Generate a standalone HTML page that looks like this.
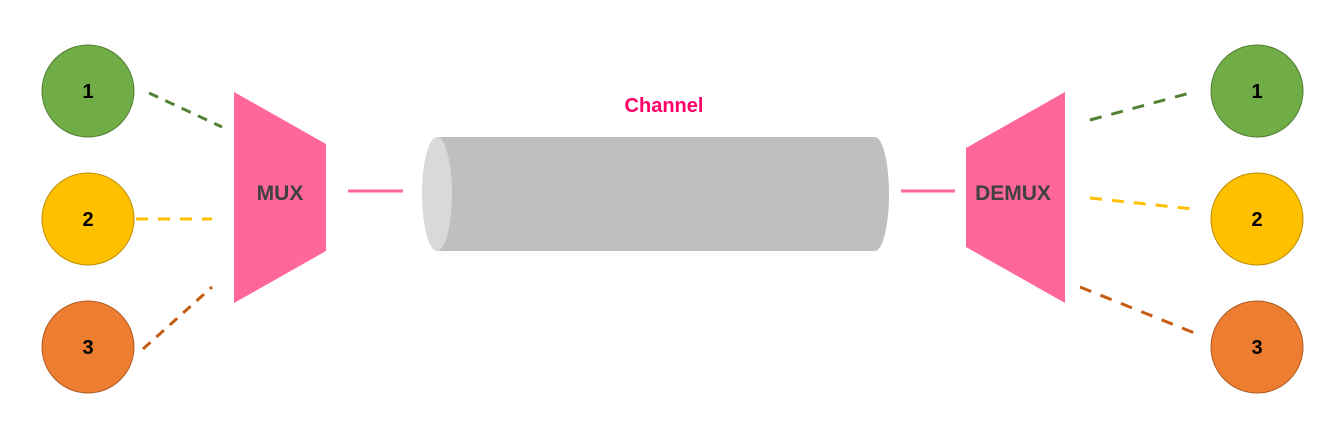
<!DOCTYPE html>
<html><head><meta charset="utf-8"><style>
html,body{margin:0;padding:0;background:#fff;}
svg{display:block;}
text{font-family:"Liberation Sans",sans-serif;font-weight:bold;}
</style></head><body>
<svg width="1334" height="431" viewBox="0 0 1334 431">
  <rect width="1334" height="431" fill="#fff"/>
  <!-- left dashed links -->
  <line x1="149" y1="93" x2="222" y2="127" stroke="#548235" stroke-width="3" stroke-dasharray="10,8"/>
  <line x1="136" y1="219" x2="212" y2="219" stroke="#ffc000" stroke-width="3" stroke-dasharray="12,10"/>
  <line x1="143" y1="349" x2="212" y2="287" stroke="#c55a11" stroke-width="3" stroke-dasharray="10,8"/>
  <!-- right dashed links -->
  <line x1="1090" y1="120" x2="1190" y2="93" stroke="#548235" stroke-width="3" stroke-dasharray="12,10"/>
  <line x1="1090" y1="198" x2="1193" y2="209" stroke="#ffc000" stroke-width="3" stroke-dasharray="12,10"/>
  <line x1="1080" y1="287" x2="1197" y2="334" stroke="#c55a11" stroke-width="3" stroke-dasharray="12,10"/>
  <!-- pink links -->
  <line x1="348" y1="191" x2="403" y2="191" stroke="#ff6699" stroke-width="3"/>
  <line x1="901" y1="191" x2="955" y2="191" stroke="#ff6699" stroke-width="3"/>
  <!-- left circles -->
  <g><circle cx="88" cy="91" r="46" fill="#70ad47" stroke="#507e32" stroke-width="1"/><text x="88" y="98" font-size="20" text-anchor="middle" fill="#000">1</text></g>
  <g><circle cx="88" cy="219" r="46" fill="#ffc000" stroke="#bc8c00" stroke-width="1"/><text x="88" y="226" font-size="20" text-anchor="middle" fill="#000">2</text></g>
  <g><circle cx="88" cy="347" r="46" fill="#ed7d31" stroke="#ae5a21" stroke-width="1"/><text x="88" y="354" font-size="20" text-anchor="middle" fill="#000">3</text></g>
  <!-- right circles -->
  <g><circle cx="1257" cy="91" r="46" fill="#70ad47" stroke="#507e32" stroke-width="1"/><text x="1257" y="98" font-size="20" text-anchor="middle" fill="#000">1</text></g>
  <g><circle cx="1257" cy="219" r="46" fill="#ffc000" stroke="#bc8c00" stroke-width="1"/><text x="1257" y="226" font-size="20" text-anchor="middle" fill="#000">2</text></g>
  <g><circle cx="1257" cy="347" r="46" fill="#ed7d31" stroke="#ae5a21" stroke-width="1"/><text x="1257" y="354" font-size="20" text-anchor="middle" fill="#000">3</text></g>
  <!-- MUX -->
  <g>
    <polygon points="234,92 326,144 326,251 234,303" fill="#ff6699"/>
    <text x="280" y="200" font-size="21" text-anchor="middle" fill="#404040">MUX</text>
  </g>
  <!-- DEMUX -->
  <g>
    <polygon points="966,148 1065,92 1065,303 966,247" fill="#ff6699"/>
    <text x="1013" y="200" font-size="21" text-anchor="middle" fill="#404040">DEMUX</text>
  </g>
  <!-- channel cylinder -->
  <g>
    <path d="M437,137 L875,137 A14,57 0 0 1 875,251 L437,251 Z" fill="#bfbfbf"/>
    <ellipse cx="437" cy="194" rx="15" ry="57" fill="#d9d9d9"/>
  </g>
  <text x="664" y="112" font-size="20" text-anchor="middle" fill="#ff0066">Channel</text>
</svg>
</body></html>
